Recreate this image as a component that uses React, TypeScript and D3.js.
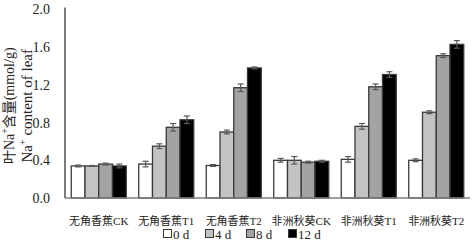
import React from 'react';
import * as d3 from 'd3';

const categories = ['无角香蕉CK', '无角香蕉T1', '无角香蕉T2', '非洲秋葵CK', '非洲秋葵T1', '非洲秋葵T2'];
const seriesNames = ['0 d', '4 d', '8 d', '12 d'];
// values per series, one per category
const day0 = [0.34, 0.36, 0.345, 0.40, 0.41, 0.40];
const day4 = [0.34, 0.55, 0.70, 0.40, 0.76, 0.91];
const day8 = [0.36, 0.75, 1.17, 0.38, 1.18, 1.51];
const day12 = [0.34, 0.83, 1.38, 0.39, 1.31, 1.63];
// standard errors
const err0 = [0.01, 0.03, 0.01, 0.02, 0.03, 0.015];
const err4 = [0.005, 0.025, 0.02, 0.04, 0.03, 0.015];
const err8 = [0.01, 0.04, 0.04, 0.01, 0.03, 0.02];
const err12 = [0.02, 0.04, 0.01, 0.01, 0.03, 0.04];
const yTicks = [0, 0.4, 0.8, 1.2, 1.6, 2.0];

const seriesVals = [day0, day4, day8, day12];
const seriesErr = [err0, err4, err8, err12];
const fills = ['#ffffff', '#c3c3c3', '#a3a3a3', '#000000'];

const serif = '"Liberation Serif", "Times New Roman", "Noto Sans CJK SC", serif';

export default function App() {
  const W = 472, H = 247;
  const left = 65, right = 470, top = 9.5, bottom = 198;

  const x = d3.scaleBand<string>().domain(categories).range([left, right])
    .paddingInner(0.185).paddingOuter(0.0925);
  const xs = d3.scaleBand<string>().domain(seriesNames).range([0, x.bandwidth()]);
  const y = d3.scaleLinear().domain([0, 2]).range([bottom, top]);

  const legendX = [163, 205, 246, 288];

  return (
    <svg width={W} height={H} style={{ position: 'absolute', left: 0, top: 0 }}>
      <rect width={W} height={H} fill="#fff" />
      {/* y ticks */}
      {yTicks.map(t => (
        <text key={t} x={left - 15} y={y(t)} dy="0.35em" textAnchor="end"
          fontFamily={serif} fontSize={14} fill="#222">{d3.format('.1f')(t)}</text>
      ))}
      {/* y title */}
      <text transform={`translate(14,${(top + bottom) / 2 + 2}) rotate(-90)`} textAnchor="middle"
        fontFamily={serif} fontSize={14} fill="#222">
        叶Na<tspan fontSize={9.5} dy={-6}>+</tspan><tspan dy={6}>含量(mmol/g)</tspan>
      </text>
      <text transform={`translate(32,${(top + bottom) / 2 + 2}) rotate(-90)`} textAnchor="middle"
        fontFamily={serif} fontSize={15} fill="#222">
        Na<tspan fontSize={10} dy={-6}>+</tspan><tspan dy={6}> content of leaf</tspan>
      </text>
      {/* bars */}
      {categories.map((c, ci) => (
        <g key={c}>
          {seriesNames.map((s, si) => {
            const v = seriesVals[si][ci];
            const e = seriesErr[si][ci];
            const bx = (x(c) as number) + (xs(s) as number);
            const bw = xs.bandwidth();
            const cx = bx + bw / 2;
            return (
              <g key={s}>
                <rect x={bx} y={y(v)} width={bw} height={bottom - y(v)}
                  fill={fills[si]} stroke="#3a3a3a" strokeWidth={1.3} />
                <line x1={cx} x2={cx} y1={y(v + e)} y2={y(v - e)} stroke="#595959" strokeWidth={1.2} />
                <line x1={cx - 3} x2={cx + 3} y1={y(v + e)} y2={y(v + e)} stroke="#595959" strokeWidth={1.2} />
                <line x1={cx - 3} x2={cx + 3} y1={y(v - e)} y2={y(v - e)} stroke="#595959" strokeWidth={1.2} />
              </g>
            );
          })}
        </g>
      ))}
      {/* axes */}
      <line x1={left} x2={left} y1={top - 2} y2={bottom} stroke="#222" strokeWidth={1.2} />
      <line x1={left} x2={right} y1={bottom} y2={bottom} stroke="#7f7f7f" strokeWidth={1.5} />
      {/* category labels */}
      {categories.map(c => (
        <text key={c} x={(x(c) as number) + x.bandwidth() / 2} y={221} dy="0.35em" textAnchor="middle"
          fontFamily={serif} fontSize={11} fill="#222">{c}</text>
      ))}
      {/* legend */}
      {seriesNames.map((s, si) => (
        <g key={s} transform={`translate(${legendX[si]},234)`}>
          <rect x={0.5} y={-4.5} width={8} height={8} fill={fills[si]} stroke="#3a3a3a" strokeWidth={1} />
          <text x={10} y={0} dy="0.35em" fontFamily={serif} fontSize={13} fill="#222">{s}</text>
        </g>
      ))}
    </svg>
  );
}
